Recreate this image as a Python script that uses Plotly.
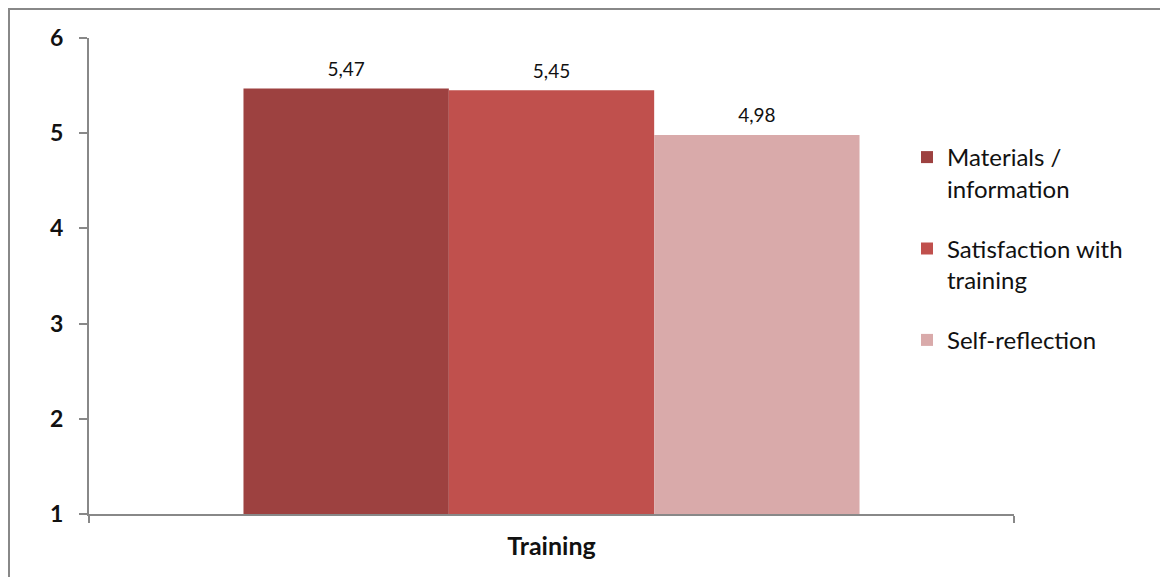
import plotly.graph_objects as go

categories = ["Training"]
series_names = ["Materials /<br>information", "Satisfaction with<br>training", "Self-reflection"]
series_values = [[5.47], [5.45], [4.98]]
series_colors = ["#9D4140", "#C0504D", "#D9AAAA"]
y_ticks = [1, 2, 3, 4, 5, 6]

FONT = "Lato"
GAP = 0.334

fig = go.Figure()
for i, (name, vals, col) in enumerate(zip(series_names, series_values, series_colors)):
    fig.add_trace(go.Bar(
        x=categories, y=vals, name=name, marker=dict(color=col, line=dict(width=0)),
        offsetgroup=str(i), legendgroup=str(i), hoverinfo="skip",
    ))
for i, (name, vals) in enumerate(zip(series_names, series_values)):
    fig.add_trace(go.Scatter(
        x=categories, y=vals, mode="markers+text", texttemplate="%{y:.2f}",
        textposition="top center", textfont=dict(family=FONT, size=19, color="#111111"),
        marker=dict(size=11, opacity=0), offsetgroup=str(i), showlegend=False,
        hoverinfo="skip", cliponaxis=False,
    ))

# page body has an 8px margin; reference pixel positions are shifted by it
OFF = 8
L, R, T, B = 89 - OFF, 1014 - OFF, 38 - OFF, 514 - OFF
W, H = 1168 - OFF, 577 - OFF
pw, ph = R - L, B - T

def px(x):
    return (x - OFF - L) / pw

def py(y):
    return (B - (y - OFF)) / ph

fig.update_layout(
    width=W, height=H,
    margin=dict(l=L, r=W - R, t=T, b=H - B, pad=0),
    paper_bgcolor="white", plot_bgcolor="white",
    barmode="group", bargap=GAP, bargroupgap=0,
    scattermode="group", scattergap=GAP,
    separators=",.",
    font=dict(family=FONT, color="#111111"),
    legend=dict(
        x=px(907), y=py(135), xanchor="left", yanchor="top",
        font=dict(family=FONT, size=24, color="#111111"),
        tracegroupgap=26, valign="top", itemwidth=30,
        bgcolor="rgba(0,0,0,0)",
    ),
    xaxis=dict(
        type="category", showline=True, linecolor="#888888", linewidth=2,
        ticks="outside", tickson="boundaries", ticklen=7, tickwidth=2, tickcolor="#888888",
        tickfont=dict(family=FONT, size=25, color="#111111", weight="bold"),
        ticklabelstandoff=9, showgrid=False, zeroline=False,
    ),
    yaxis=dict(
        range=[1, 6], tickvals=y_ticks, showline=True, linecolor="#888888", linewidth=2,
        ticks="outside", ticklen=8, tickwidth=2, tickcolor="#888888",
        tickfont=dict(family=FONT, size=23, color="#111111", weight="bold"),
        ticklabelstandoff=11, showgrid=False, zeroline=False,
    ),
    shapes=[
        dict(type="line", xref="paper", yref="paper", x0=px(9), x1=px(9),
             y0=py(H + 20), y1=py(8), line=dict(color="#888888", width=2)),
        dict(type="line", xref="paper", yref="paper", x0=px(8), x1=px(W + 20),
             y0=py(9), y1=py(9), line=dict(color="#888888", width=2)),
    ],
)

fig.write_html("out.html")
